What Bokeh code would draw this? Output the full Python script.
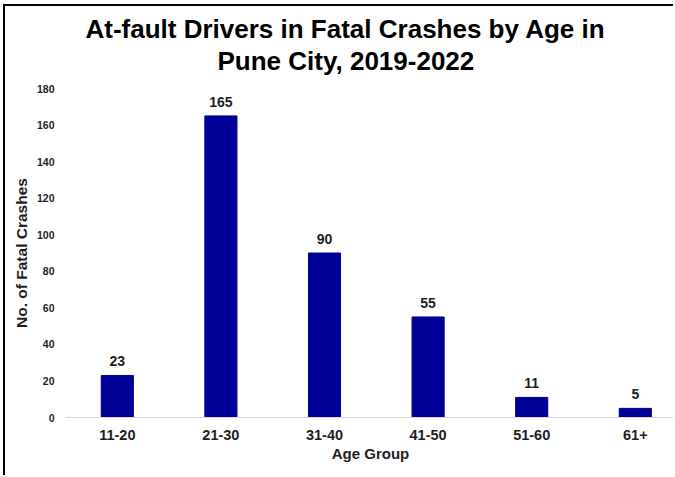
from bokeh.plotting import figure
from bokeh.models import ColumnDataSource, Range1d, FixedTicker, LabelSet, Title
from bokeh.core.properties import value
from bokeh.embed import file_html
from bokeh.resources import INLINE

# ---- data ----
categories = ["11-20", "21-30", "31-40", "41-50", "51-60", "61+"]
crashes = [23, 165, 90, 55, 11, 5]
y_ticks = [0, 20, 40, 60, 80, 100, 120, 140, 160, 180]
title_line1 = "At-fault Drivers in Fatal Crashes by Age in"
title_line2 = "Pune City, 2019-2022"

positions = [i + 0.5 for i in range(len(categories))]
source = ColumnDataSource(dict(
    x=positions,
    top=crashes,
    label=[str(v) for v in crashes],
    cat=categories,
))

FONT = "Liberation Sans"
TXT = "#1e1e1e"

p = figure(
    width=670, height=471,
    x_range=Range1d(0, 5.888), y_range=Range1d(0, 180),
    output_backend="svg", toolbar_location=None,
    min_border_left=60, min_border_right=0,
    min_border_bottom=60, min_border_top=82,
)
p.styles = {
    "margin-left": "3px", "margin-top": "4px",
    "border-left": "2px solid black", "border-top": "2px solid black",
}
p.outline_line_color = None
p.background_fill_color = "white"
p.border_fill_color = "white"
p.xgrid.visible = False
p.ygrid.visible = False

p.vbar(x="x", top="top", bottom=0, width=0.31, source=source,
       fill_color="#000099", line_color="#000099")

labels = LabelSet(x="x", y="top", text="label", source=source,
                  text_align="center", text_baseline="alphabetic", y_offset=9,
                  text_font=value(FONT), text_font_size=value("14px"),
                  text_font_style=value("bold"), text_color=value(TXT))
p.add_layout(labels)

# y axis
ya = p.yaxis[0]
ya.ticker = FixedTicker(ticks=y_ticks)
ya.axis_line_color = None
ya.major_tick_line_color = None
ya.minor_tick_line_color = None
ya.major_label_text_font = FONT
ya.major_label_text_font_size = "10.5px"
ya.major_label_text_font_style = "bold"
ya.major_label_text_color = TXT
ya.major_label_standoff = 5
ya.axis_label = "No. of Fatal Crashes"
ya.axis_label_text_font = FONT
ya.axis_label_text_font_size = "15.5px"
ya.axis_label_text_font_style = "bold"
ya.axis_label_text_color = TXT
ya.axis_label_standoff = 4

# x axis
xa = p.xaxis[0]
xa.ticker = FixedTicker(ticks=positions)
xa.major_label_overrides = {pos: cat for pos, cat in zip(positions, categories)}
xa.axis_line_color = "#d9d9d9"
xa.axis_line_width = 1
xa.major_tick_line_color = None
xa.minor_tick_line_color = None
xa.major_label_text_font = FONT
xa.major_label_text_font_size = "14.5px"
xa.major_label_text_font_style = "bold"
xa.major_label_text_color = TXT
xa.major_label_standoff = 6
xa.axis_label = "Age Group"
xa.axis_label_text_font = FONT
xa.axis_label_text_font_size = "15px"
xa.axis_label_text_font_style = "bold"
xa.axis_label_text_color = TXT
xa.axis_label_standoff = 2

# two-line title: spacer (nearest the frame), line 2, then line 1 on top
spacer = Title(text=" ", text_font_size="1px", standoff=10)
p.add_layout(spacer, "above")
t2 = Title(text=title_line2, align="left", offset=152, text_font=FONT,
           text_font_size="26px", text_font_style="bold", text_color="black",
           standoff=0)
p.add_layout(t2, "above")
t1 = Title(text=title_line1, align="left", offset=20, text_font=FONT,
           text_font_size="26px", text_font_style="bold", text_color="black",
           standoff=0)
p.add_layout(t1, "above")

open("out.html", "w").write(file_html(p, INLINE))
